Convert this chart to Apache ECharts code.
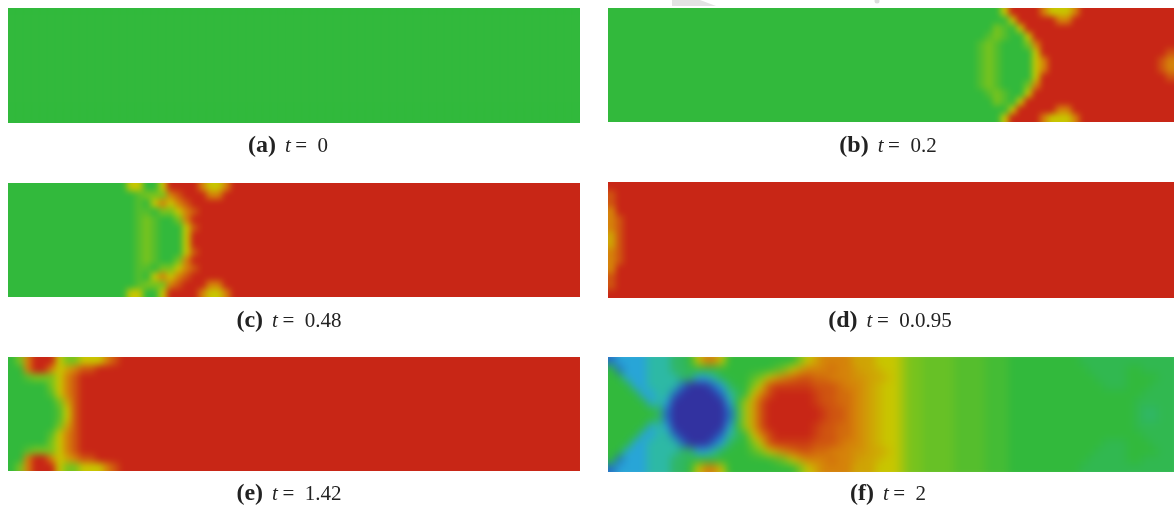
<!DOCTYPE html>
<html>
<head>
<meta charset="utf-8">
<title>t panels</title>
<script src="https://cdn.jsdelivr.net/npm/echarts@6/dist/echarts.min.js"></script>
<style>
html, body { margin: 0; padding: 0; background: #fff; }
#page { position: relative; width: 1174px; height: 507px; overflow: hidden; }
#labels { position: absolute; left: 0; top: 0; width: 1174px; height: 507px; }
.clip { position: absolute; overflow: hidden; }
.heat { position: absolute; transform-origin: 0 0; }
</style>
</head>
<body>
<div id="page"><div id="labels"></div></div>
<script>
// colour levels, 0 = lowest (blue), 5 = green, 9 = red
var levelColors = ["#3232a0", "#236ec8", "#28a5d7", "#2db9a5", "#30b764", "#32b93c", "#78c31e", "#c8c600", "#d5820a", "#c82616"];
// letters are fractional steps between the digits
var halfSteps = { k: 8.75, a: 8.5, h: 8.25, i: 7.75, b: 7.5, j: 7.25, c: 6.5, f: 5.75, d: 5.5, g: 5.25, e: 4.5 };
var columnCount = 72;
var cellPx = 8; // cells are drawn on whole pixels, then scaled to the panel, so no seams show

var captionLetters = ["(a)", "(b)", "(c)", "(d)", "(e)", "(f)"];
var captionTimes = ["0", "0.2", "0.48", "0.0.95", "1.42", "2"];

var fieldA = ["5"];

var fieldB = [
    "5555555555 5555555555 5555555555 5555555555 5555555555 7999987778 9",
    "5555555555 5555555555 5555555555 5555555555 5555555555 5799999889 9",
    "5555555555 5555555555 5555555555 5555555555 5555555556 d579999999 9",
    "5555555555 5555555555 5555555555 5555555555 55555555d6 d557999999 9",
    "5555555555 5555555555 5555555555 5555555555 5555555d6d 5556899999 9",
    "5555555555 5555555555 5555555555 5555555555 5555555d6d 5555799999 9999999999 9a",
    "5555555555 5555555555 5555555555 5555555555 5555555d6d 5555789999 9999999999 a8",
    "5555555555 5555555555 5555555555 5555555555 5555555d6d 5555789999 9999999999 a8",
    "5555555555 5555555555 5555555555 5555555555 5555555d6d 5555799999 9999999999 9a",
    "5555555555 5555555555 5555555555 5555555555 5555555d6d 5556899999 9",
    "5555555555 5555555555 5555555555 5555555555 55555555d6 d557999999 9",
    "5555555555 5555555555 5555555555 5555555555 5555555556 d579999999 9",
    "5555555555 5555555555 5555555555 5555555555 5555555555 5799999889 9",
    "5555555555 5555555555 5555555555 5555555555 5555555555 7999987778 9"
];

var fieldC = [
    "5555555555 5555577557 9999877899",
    "5555555555 555555d666 8a99988999",
    "5555555555 555555d578 78a9999999",
    "5555555555 555555dd56 678a999999",
    "5555555555 555555d6d5 5689999999",
    "5555555555 555555d6d5 557a999999",
    "5555555555 555555d6d5 5579999999",
    "5555555555 555555d6d5 5579999999",
    "5555555555 555555d6d5 557a999999",
    "5555555555 555555d6d5 5689999999",
    "5555555555 555555dd56 678a999999",
    "5555555555 555555d578 78a9999999",
    "5555555555 555555d666 8a99988999",
    "5555555555 5555577557 9999877899"
];

var fieldD = ["9", "a9", "a9", "89", "8a9", "8a9", "ba9", "ba9", "8a9", "8a9", "89", "a9", "a9", "9"];

var fieldE = [
    "5689997667 778a9",
    "5589987b8a a9",
    "55d66678a9 9",
    "5555567 8a9 9",
    "55555d78a9 9",
    "5555556ba9 9",
    "555555d7a9 9",
    "555555d7a9 9",
    "5555556ba9 9",
    "55555d78a9 9",
    "5555567 8a9 9",
    "55d66678a9 9",
    "5589987b8a a9",
    "5689997667 778a9"
];

var fieldF = [
    "1222233344 5788755555 555567b888 8bbb777c66 ffffddddgg g555555555 eeeeeeeeeeee",
    "5122233344 e555555555 5d67b888h8 8ibbj77c66 ffffddddgg g555555555 5eeeee55eeee",
    "5522233334 4223e555d6 7b8haahh88 8iibbj7c66 ffffddddgg g555555555 55eeee5555ee",
    "5552233331 0001245567 akkkkkaaah 88ibj77c66 ffffddddgg g555555555 555eee555eee",
    "5555223310 0000134578 a99999kaah h8ibj77c66 ffffddddgg g555555555 55555555eeee",
    "5555523200 0000025cba 999999kaah h8ibj77c66 ffffddddgg g555555555 5555555eeeee",
    "5555554100 0000014cba 9999999kaa h8ibj77c66 ffffddddgg g555555555 5555555e44ee",
    "5555554100 0000014cba 9999999kaa h8ibj77c66 ffffddddgg g555555555 5555555e44ee",
    "5555523200 0000025cba 999999kaah h8ibj77c66 ffffddddgg g555555555 5555555eeeee",
    "5555223310 0000134578 a99999kaah h8ibj77c66 ffffddddgg g555555555 55555555eeee",
    "5552233331 0001245567 akkkkkaaah 88ibj77c66 ffffddddgg g555555555 555eee555eee",
    "5522233334 4223e555d6 7b8haahh88 8iibbj7c66 ffffddddgg g555555555 55eeee5555ee",
    "5122233344 e555555555 5d67b888h8 8ibbj77c66 ffffddddgg g555555555 5eeeee55eeee",
    "1222233344 5788755555 555567b888 8bbb777c66 ffffddddgg g555555555 eeeeeeeeeeee"
];

var panels = [
    { field: fieldA, left: 8, top: 8, width: 572, height: 115, blur: 0, captionX: 288 },
    { field: fieldB, left: 608, top: 8, width: 566, height: 114, blur: 3, captionX: 888 },
    { field: fieldC, left: 8, top: 183, width: 572, height: 114, blur: 3, captionX: 289 },
    { field: fieldD, left: 608, top: 182, width: 566, height: 116, blur: 3, captionX: 890 },
    { field: fieldE, left: 8, top: 357, width: 572, height: 114, blur: 3.5, captionX: 289 },
    { field: fieldF, left: 608, top: 357, width: 566, height: 115, blur: 4.5, captionX: 888 }
];
var captionY = [146, 146, 321, 321, 494, 494];

function levelOf(ch) {
    return halfSteps[ch] !== undefined ? halfSteps[ch] : Number(ch);
}

// expand to full width, then repeat the outer cells once so the blur has something to eat at the clip edge
function toCells(field) {
    var rows = field.map(function (row) {
        var s = row.replace(/ /g, "").slice(0, columnCount);
        return s.padEnd(columnCount, s.charAt(s.length - 1)).split("").map(levelOf);
    });
    rows = [rows[0]].concat(rows, [rows[rows.length - 1]]);
    return rows.map(function (row) {
        return [row[0]].concat(row, [row[row.length - 1]]);
    });
}

function drawPanel(panel) {
    var page = document.getElementById("page");
    var clip = document.createElement("div");
    clip.className = "clip";
    clip.style.left = panel.left + "px";
    clip.style.top = panel.top + "px";
    clip.style.width = panel.width + "px";
    clip.style.height = panel.height + "px";
    page.appendChild(clip);

    var rows = toCells(panel.field);
    var nRows = rows.length, nCols = rows[0].length;
    var cellW = panel.width / (nCols - 2), cellH = panel.height / (nRows - 2);
    var heat = document.createElement("div");
    heat.className = "heat";
    heat.style.left = -cellW + "px";
    heat.style.top = -cellH + "px";
    heat.style.width = nCols * cellPx + "px";
    heat.style.height = nRows * cellPx + "px";
    heat.style.transform = "scale(" + cellW / cellPx + "," + cellH / cellPx + ")";
    if (panel.blur) heat.style.filter = "blur(" + panel.blur + "px)";
    clip.appendChild(heat);

    var cells = [];
    rows.forEach(function (row, y) {
        row.forEach(function (v, x) {
            cells.push([x, nRows - 1 - y, v]);
        });
    });
    var xCats = [], yCats = [], i;
    for (i = 0; i < nCols; i++) xCats.push(i);
    for (i = 0; i < nRows; i++) yCats.push(i);

    var chart = echarts.init(heat, null, { renderer: "canvas" });
    chart.setOption({
        animation: false,
        grid: { left: 0, right: 0, top: 0, bottom: 0 },
        xAxis: { type: "category", data: xCats, show: false },
        yAxis: { type: "category", data: yCats, show: false },
        visualMap: { show: false, min: 0, max: 9, inRange: { color: levelColors } },
        series: [{ type: "heatmap", data: cells, progressive: 0, emphasis: { disabled: true } }]
    });
}

panels.forEach(drawPanel);

var labels = echarts.init(document.getElementById("labels"), null, { renderer: "canvas" });
labels.setOption({
    animation: false,
    title: panels.map(function (panel, i) {
        return {
            left: panel.captionX,
            top: captionY[i],
            textAlign: "center",
            textVerticalAlign: "middle",
            padding: 0,
            text: "{b|" + captionLetters[i] + "}  {i|t} {n|=  " + captionTimes[i] + "}",
            textStyle: {
                fontFamily: "Liberation Serif",
                fontSize: 18,
                fontWeight: "normal",
                color: "#222",
                rich: {
                    b: { fontFamily: "Liberation Serif", fontSize: 24, fontWeight: "bold", color: "#222" },
                    i: { fontFamily: "Liberation Serif", fontSize: 21, fontStyle: "italic", color: "#222" },
                    n: { fontFamily: "Liberation Serif", fontSize: 21, color: "#222" }
                }
            }
        };
    }),
    graphic: [
        // grey watermark scraps along the top edge
        { type: "polygon", shape: { points: [[672, 0], [700, 0], [716, 6], [672, 6]] }, style: { fill: "#e3e3e3" } },
        { type: "circle", shape: { cx: 877, cy: 1, r: 2.5 }, style: { fill: "#dddddd" } }
    ]
});
</script>
</body>
</html>
